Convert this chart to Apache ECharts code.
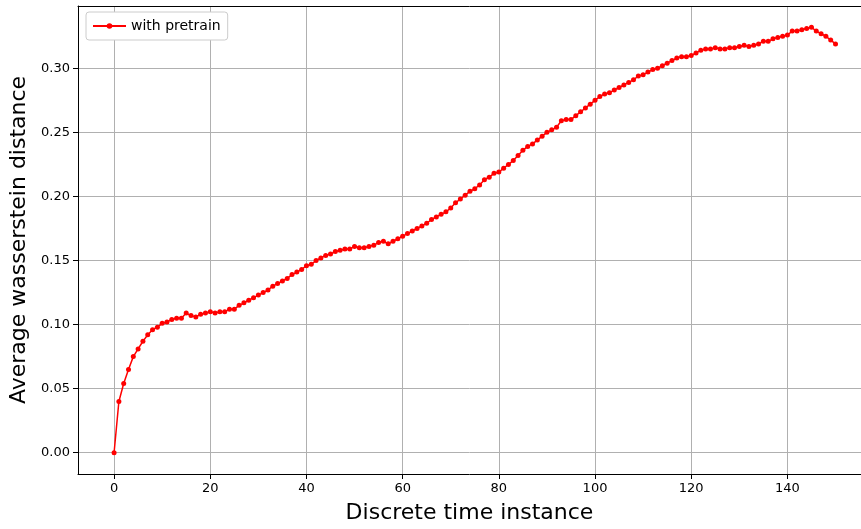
<!DOCTYPE html>
<html>
<head>
<meta charset="utf-8">
<script src="https://cdn.jsdelivr.net/npm/echarts@6/dist/echarts.min.js"></script>
<style>
html,body{margin:0;padding:0;background:#fff;}
#chart{width:861px;height:529px;}
</style>
</head>
<body>
<div id="chart"></div>
<script>
// Discrete time instances 0..150 (index of each value)
const seriesName = 'with pretrain';
const xTicks = [0, 20, 40, 60, 80, 100, 120, 140];
const yTicks = [0.00, 0.05, 0.10, 0.15, 0.20, 0.25, 0.30];
const avgWasserstein = [
  0.000, 0.040, 0.054, 0.065, 0.075, 0.081, 0.087, 0.092, 0.096, 0.098,
  0.101, 0.102, 0.104, 0.105, 0.105, 0.109, 0.107, 0.106, 0.108, 0.109,
  0.110, 0.109, 0.110, 0.110, 0.112, 0.112, 0.115, 0.117, 0.119, 0.121,
  0.123, 0.125, 0.127, 0.130, 0.132, 0.134, 0.136, 0.139, 0.141, 0.143,
  0.146, 0.147, 0.150, 0.152, 0.154, 0.155, 0.157, 0.158, 0.159, 0.159,
  0.161, 0.160, 0.160, 0.161, 0.162, 0.164, 0.165, 0.163, 0.165, 0.167,
  0.169, 0.171, 0.173, 0.175, 0.177, 0.179, 0.182, 0.184, 0.186, 0.188,
  0.191, 0.195, 0.198, 0.201, 0.204, 0.206, 0.209, 0.213, 0.215, 0.218,
  0.219, 0.222, 0.225, 0.228, 0.232, 0.236, 0.239, 0.241, 0.244, 0.247,
  0.250, 0.252, 0.254, 0.259, 0.260, 0.260, 0.263, 0.266, 0.269, 0.272,
  0.275, 0.278, 0.280, 0.281, 0.283, 0.285, 0.287, 0.289, 0.291, 0.294,
  0.295, 0.297, 0.299, 0.300, 0.302, 0.304, 0.306, 0.308, 0.309, 0.309,
  0.310, 0.312, 0.314, 0.315, 0.315, 0.316, 0.315, 0.315, 0.316, 0.316,
  0.317, 0.318, 0.317, 0.318, 0.319, 0.321, 0.321, 0.323, 0.324, 0.325,
  0.326, 0.329, 0.329, 0.330, 0.331, 0.332, 0.329, 0.327, 0.325, 0.322,
  0.319
];
const timeInstances = avgWasserstein.map((v, i) => i);
const points = timeInstances.map((t, i) => [t, avgWasserstein[i]]);

const FONT = 'DejaVu Sans';
const X_MIN = -7.5, X_MAX = 155.3;
const chart = echarts.init(document.getElementById('chart'), null, {renderer: 'canvas'});
chart.setOption({
  animation: false,
  backgroundColor: '#fff',
  textStyle: {fontFamily: FONT},
  grid: {
    left: 78, top: 6, right: 0, height: 472,
    show: false
  },
  legend: {
    left: 86, top: 12,
    data: [seriesName],
    padding: [7, 7, 7, 6],
    itemWidth: 33, itemHeight: 7,
    itemGap: 10,
    borderColor: '#cccccc', borderWidth: 1, borderRadius: 3,
    backgroundColor: '#fff',
    textStyle: {fontFamily: FONT, fontSize: 14, color: '#000'}
  },
  xAxis: [{
    type: 'value',
    min: X_MIN, max: X_MAX,
    name: 'Discrete time instance',
    nameLocation: 'middle',
    nameGap: 28,
    nameTextStyle: {fontFamily: FONT, fontSize: 22, color: '#000', verticalAlign: 'top'},
    axisLine: {show: true, onZero: false, lineStyle: {color: '#000', width: 1}},
    axisTick: {show: true, inside: false, length: 5, customValues: xTicks, lineStyle: {color: '#000', width: 1}},
    axisLabel: {customValues: xTicks, margin: 8, fontFamily: FONT, fontSize: 13, color: '#000'},
    splitLine: {show: true, lineStyle: {color: '#b0b0b0', width: 1}}
  }, {
    type: 'value',
    position: 'top',
    min: X_MIN, max: X_MAX,
    axisLine: {show: true, onZero: false, lineStyle: {color: '#000', width: 1}},
    axisTick: {show: false},
    axisLabel: {show: false},
    splitLine: {show: false}
  }],
  yAxis: {
    type: 'value',
    min: -0.0166, max: 0.3486,
    name: 'Average wasserstein distance',
    nameLocation: 'middle',
    nameGap: 48,
    nameTextStyle: {fontFamily: FONT, fontSize: 22, color: '#000'},
    axisLine: {show: true, onZero: false, lineStyle: {color: '#000', width: 1}},
    axisTick: {show: true, inside: false, length: 5, customValues: yTicks, lineStyle: {color: '#000', width: 1}},
    axisLabel: {customValues: yTicks, margin: 8, fontFamily: FONT, fontSize: 13, color: '#000',
      formatter: v => v.toFixed(2)},
    splitLine: {show: true, lineStyle: {color: '#b0b0b0', width: 1}}
  },
  series: [{
    name: seriesName,
    type: 'line',
    xAxisIndex: 0,
    data: points,
    symbol: 'circle',
    symbolSize: 5,
    showSymbol: true,
    lineStyle: {color: '#ff0000', width: 1.5},
    itemStyle: {color: '#ff0000'},
    emphasis: {disabled: true},
    z: 3
  }]
});
</script>
</body>
</html>
